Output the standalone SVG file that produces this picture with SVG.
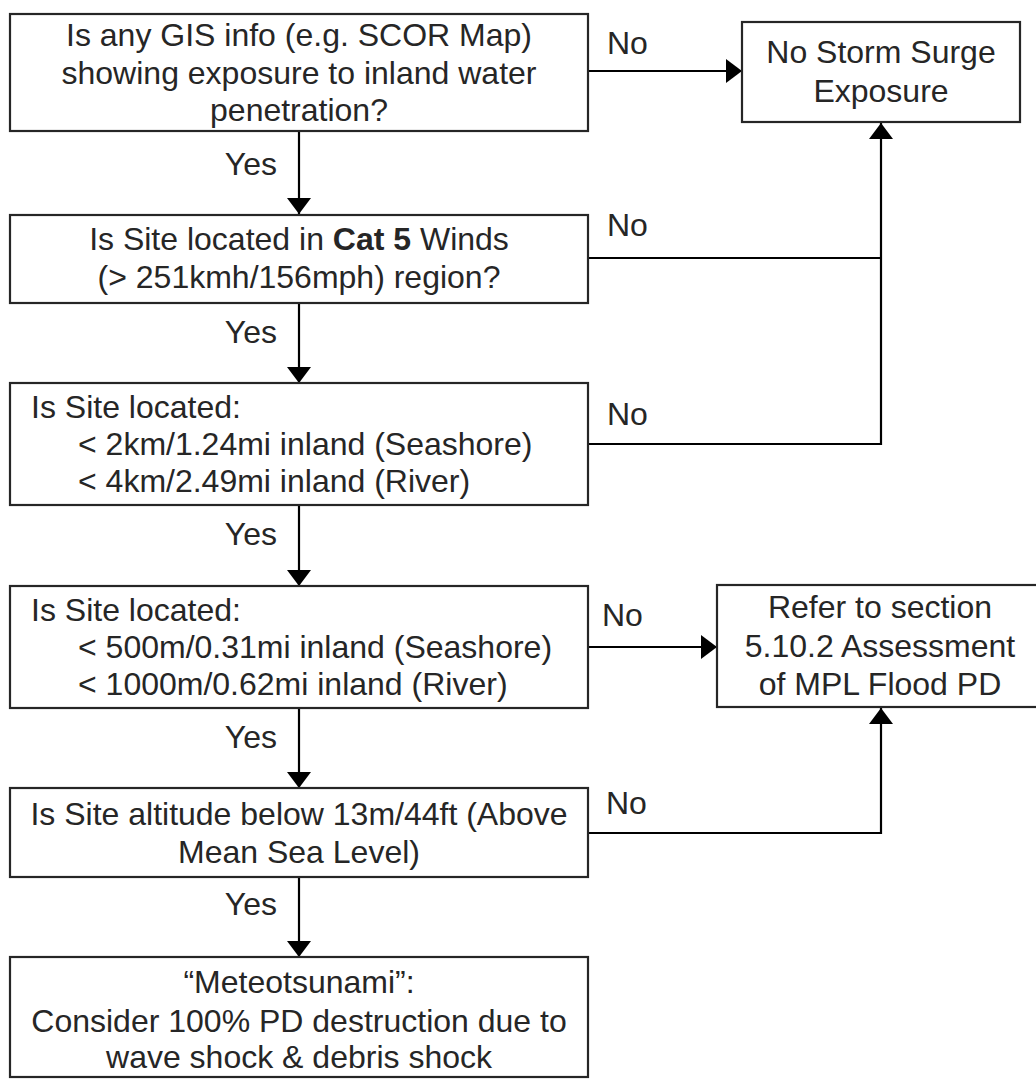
<svg xmlns="http://www.w3.org/2000/svg" width="1036" height="1080" viewBox="0 0 1036 1080">
<defs>
<style>
.box{fill:#fff;stroke:#262626;stroke-width:2.2}
.t{font-family:"Liberation Sans",Arial,sans-serif;font-size:32px;fill:#262626}
.c{text-anchor:middle}
.ln{fill:none;stroke:#000;stroke-width:2.2}
</style>
<marker id="ah" viewBox="0 0 16 24" refX="16" refY="12" markerWidth="16" markerHeight="24" markerUnits="userSpaceOnUse" orient="auto">
<path d="M0,0 L16,12 L0,24 Z" fill="#000"/>
</marker>
</defs>
<rect width="1036" height="1080" fill="#fff"/>
<g id="connectors">
<line class="ln" x1="588" y1="71" x2="742" y2="71" marker-end="url(#ah)"/>
<polyline class="ln" points="588,258 881,258"/>
<polyline class="ln" points="588,444 881,444 881,123" marker-end="url(#ah)"/>
<line class="ln" x1="299" y1="131" x2="299" y2="214" marker-end="url(#ah)"/>
<line class="ln" x1="299" y1="303" x2="299" y2="383" marker-end="url(#ah)"/>
<line class="ln" x1="299" y1="505" x2="299" y2="586" marker-end="url(#ah)"/>
<line class="ln" x1="588" y1="647" x2="717" y2="647" marker-end="url(#ah)"/>
<line class="ln" x1="299" y1="708" x2="299" y2="788" marker-end="url(#ah)"/>
<polyline class="ln" points="588,833 881,833 881,708" marker-end="url(#ah)"/>
<line class="ln" x1="299" y1="877" x2="299" y2="957" marker-end="url(#ah)"/>
<text class="t" x="607" y="54">No</text>
<text class="t" x="607" y="236">No</text>
<text class="t" x="607" y="425">No</text>
<text class="t" x="602" y="626">No</text>
<text class="t" x="606" y="814">No</text>
<text class="t" x="277" y="175" text-anchor="end">Yes</text>
<text class="t" x="277" y="343" text-anchor="end">Yes</text>
<text class="t" x="277" y="545" text-anchor="end">Yes</text>
<text class="t" x="277" y="748" text-anchor="end">Yes</text>
<text class="t" x="277" y="915" text-anchor="end">Yes</text>
</g>
<g id="n1">
<rect class="box" x="10" y="14" width="578" height="117"/>
<text class="t c" x="299" y="46">Is any GIS info (e.g. SCOR Map)</text>
<text class="t c" x="299" y="84">showing exposure to inland water</text>
<text class="t c" x="299" y="121">penetration?</text>
</g>
<g id="nss">
<rect class="box" x="742" y="22" width="278" height="100"/>
<text class="t c" x="881" y="63">No Storm Surge</text>
<text class="t c" x="881" y="102">Exposure</text>
</g>
<g id="n2">
<rect class="box" x="10" y="215" width="578" height="88"/>
<text class="t c" x="299" y="250">Is Site located in <tspan font-weight="bold">Cat 5</tspan> Winds</text>
<text class="t c" x="299" y="288">(&gt; 251kmh/156mph) region?</text>
</g>
<g id="n3">
<rect class="box" x="10" y="383" width="578" height="122"/>
<text class="t" x="31" y="418">Is Site located:</text>
<text class="t" x="78" y="455">&lt; 2km/1.24mi inland (Seashore)</text>
<text class="t" x="78" y="492">&lt; 4km/2.49mi inland (River)</text>
</g>
<g id="n4">
<rect class="box" x="10" y="586" width="578" height="122"/>
<text class="t" x="31" y="621">Is Site located:</text>
<text class="t" x="78" y="658">&lt; 500m/0.31mi inland (Seashore)</text>
<text class="t" x="78" y="695">&lt; 1000m/0.62mi inland (River)</text>
</g>
<g id="refer">
<rect class="box" x="717" y="585" width="326" height="122"/>
<text class="t c" x="880" y="618">Refer to section</text>
<text class="t c" x="880" y="657">5.10.2 Assessment</text>
<text class="t c" x="880" y="695">of MPL Flood PD</text>
</g>
<g id="n5">
<rect class="box" x="10" y="788" width="578" height="89"/>
<text class="t c" x="299" y="825">Is Site altitude below 13m/44ft (Above</text>
<text class="t c" x="299" y="863">Mean Sea Level)</text>
</g>
<g id="n6">
<rect class="box" x="10" y="957" width="578" height="120"/>
<text class="t c" x="299" y="993">“Meteotsunami”:</text>
<text class="t c" x="299" y="1032">Consider 100% PD destruction due to</text>
<text class="t c" x="299" y="1068">wave shock &amp; debris shock</text>
</g>
</svg>
